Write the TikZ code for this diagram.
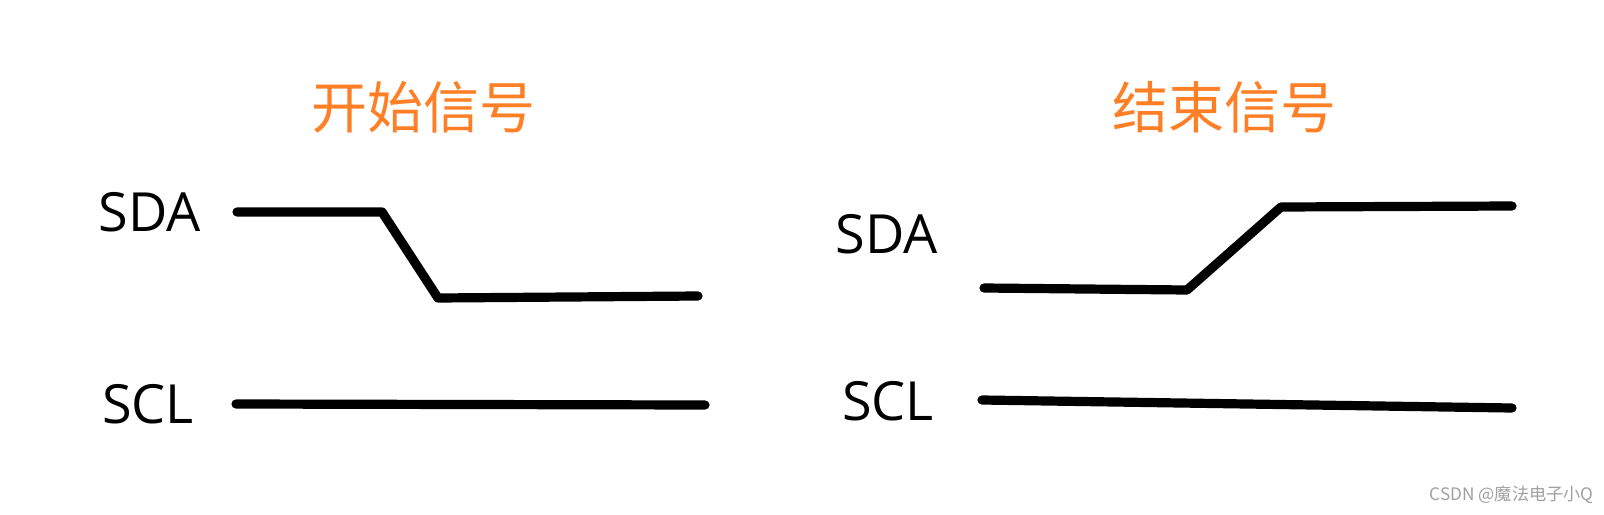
\documentclass[tikz,border=0pt]{standalone}
\usepackage{fontspec}
\setmainfont{Open Sans}
\newfontfamily\cjk{Noto Sans CJK SC}
\usepackage{xcolor}
\usetikzlibrary{positioning}
\definecolor{warm}{HTML}{FF7F27}
\definecolor{mark}{HTML}{A0A0A0}
\tikzset{
  wire/.style={line width=4.6pt,line cap=round,line join=round,draw=black},
  pin/.style={font=\fontsize{27}{30}\selectfont,inner sep=0pt,anchor=center},
  ttl/.style={font=\cjk\fontsize{28}{32}\selectfont,text=warm,inner sep=0pt},
  wmk/.style={font=\cjk\fontsize{8.6}{10}\selectfont,text=mark,inner sep=0pt,anchor=east},
}
\begin{document}
\begin{tikzpicture}[x=0.5pt,y=-0.5pt]
  \useasboundingbox (0,0) rectangle (1604,514);
  % start condition
  \node[ttl] (st) at (423,107) {开始信号};
  \node[pin] (sda1) at (150,212) {SDA};
  \node[pin] (scl1) at (148,404) {SCL};
  \coordinate (a0) at (237,212);  \coordinate (a1) at (382,212);
  \coordinate (a2) at (438,298);  \coordinate (a3) at (698,296);
  \draw[wire] (a0) -- (a1) -- (a2) -- (a3);
  \coordinate (c0) at (236,404);  \coordinate (c1) at (705,405);
  \draw[wire] (c0) -- (c1);
  % stop condition
  \node[ttl] (sp) at (1224,107) {结束信号};
  \node[pin] (sda2) at (887,234) {SDA};
  \node[pin] (scl2) at (888,401) {SCL};
  \coordinate (b0) at (984,288);  \coordinate (b1) at (1187,290);
  \coordinate (b2) at (1281,207); \coordinate (b3) at (1512,206);
  \draw[wire] (b0) -- (b1) -- (b2) -- (b3);
  \coordinate (d0) at (982,400);  \coordinate (d1) at (1512,408);
  \draw[wire] (d0) -- (d1);
  \node[wmk] (src) at (1594,495) {CSDN @魔法电子小Q};
\end{tikzpicture}
\end{document}
